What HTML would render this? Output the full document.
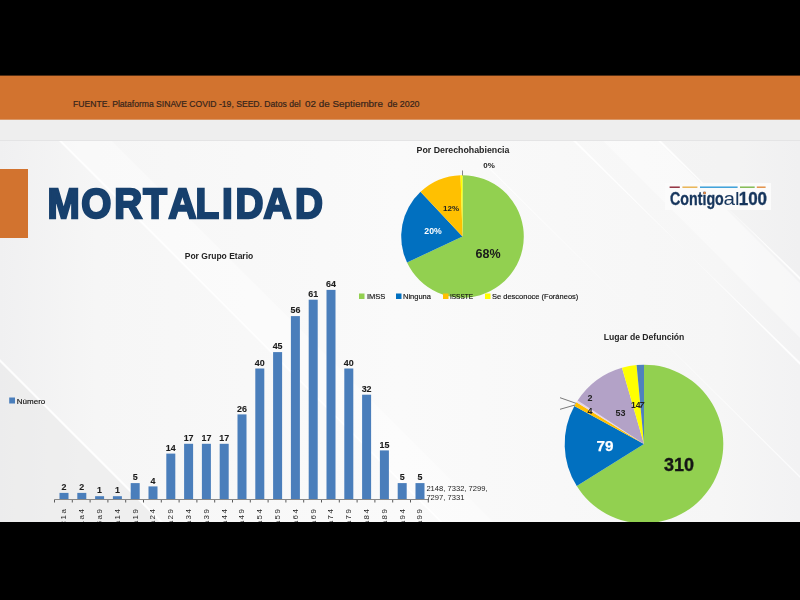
<!DOCTYPE html>
<html><head><meta charset="utf-8"><title>Mortalidad</title>
<style>
html,body{margin:0;padding:0;background:#000;}
body{width:800px;height:600px;position:relative;overflow:hidden;font-family:"Liberation Sans",sans-serif;}
.abs{position:absolute;}
#slide{left:0;top:76px;width:800px;height:446px;background:#f6f6f6;overflow:hidden;}
#bg{left:0;top:0;width:800px;height:446px;}
#topbar{left:0;top:0;width:800px;height:43px;background:#d2732f;}
#band{left:0;top:43px;width:800px;height:22px;background:#eeeeee;}
#src{left:73px;top:22px;font-size:8.6px;color:#35241a;-webkit-text-stroke:0.2px #35241a;white-space:nowrap;line-height:12px;}
#src b{font-weight:normal;font-size:9.9px;margin:0 2.1px 0 1.9px;}
#src i{font-style:normal;font-size:8.9px;}
#oblock{left:0;top:93px;width:28px;height:69px;background:#d2732f;}
svg text{font-family:"Liberation Sans",sans-serif;}
.bl{font-size:9.7px;font-weight:bold;fill:#1c1c1c;stroke:#1c1c1c;stroke-width:0.12px;text-anchor:middle;}
.xl{font-size:8px;fill:#1f1f1f;text-anchor:end;letter-spacing:1.5px;}
.ct{font-size:8.8px;font-weight:bold;fill:#242424;text-anchor:middle;}
.lg{font-size:7.5px;fill:#111;stroke:#111;stroke-width:0.15px;}
</style></head><body>
<div class="abs" style="left:0;top:75px;width:800px;height:1px;background:#542e13"></div>
<div id="slide" class="abs">
<svg id="bg" class="abs" width="800" height="446" viewBox="0 76 800 446">
<defs><linearGradient id="g1" x1="0" y1="0" x2="1" y2="0"><stop offset="0" stop-color="#f0f0f1"/><stop offset="0.12" stop-color="#f6f6f6"/><stop offset="0.5" stop-color="#fafafa"/><stop offset="0.9" stop-color="#f6f6f6"/><stop offset="1" stop-color="#f2f2f3"/></linearGradient></defs>
<rect x="0" y="76" width="800" height="446" fill="url(#g1)"/>
<polygon points="0,362 160,522 0,522" fill="#e9e9ea" opacity="0.55"/>
<polygon points="800,141 800,280 661,141" fill="#ececed" opacity="0.2"/>
<g fill="#ffffff">
<polygon points="0,359 0,362 160,522 163,522" opacity="0.85"/>
<polygon points="59,141 62,141 443,522 440,522" opacity="0.85"/>
<polygon points="62,141 112,141 493,522 443,522" opacity="0.4"/>
<polygon points="573,141 576,141 800,365 800,362" opacity="0.85"/>
<polygon points="658,141 661,141 800,280 800,277" opacity="0.85"/>
<polygon points="603,141 658,141 800,283 800,338" opacity="0.4"/>
<polygon points="461,141 463,141 800,478 800,476" opacity="0.7"/>
</g>
</svg>
<div id="topbar" class="abs"></div>
<div id="band" class="abs"></div>
<div class="abs" style="left:0;top:43px;width:800px;height:1px;background:#da9868"></div>
<div class="abs" style="left:0;top:64px;width:800px;height:1px;background:#e4e4e5"></div>
<div id="src" class="abs">FUENTE. Plataforma SINAVE COVID -19, SEED. Datos del <b>02 de Septiembre</b><i> de 2020</i></div>
<div id="oblock" class="abs"></div>
<svg class="abs" style="left:0;top:0;will-change:opacity;opacity:0.999" width="800" height="446" viewBox="0 76 800 446">
<text transform="translate(0,151.40) scale(0.87,0.9467)" x="54.5 93.4 131.3 164.7 193.8 224.8 255.3 270.6 303.0 339.2" y="70" style="font-size:44.5px;font-weight:bold;fill:#17406d;stroke:#17406d;stroke-width:2.4">MORTALIDAD</text>
<text x="219" y="258.8" class="ct" style="font-size:8.5px">Por Grupo Etario</text>
<rect x="9.2" y="397.5" width="5.8" height="6" fill="#4a7ebb"/><text x="16.8" y="403.5" class="lg" style="font-size:8px">Número</text>
<rect x="59.5" y="492.9" width="9" height="6.5" fill="#4a7ebb"/>
<text transform="translate(64.0,490.1) scale(0.92,1)" class="bl">2</text>
<text class="xl" transform="translate(66.4,507.5) rotate(-90)">&lt;1a</text>
<line x1="54.5" y1="499.5" x2="54.5" y2="502.5" stroke="#5a5a5a" stroke-width="1"/>
<rect x="77.3" y="492.9" width="9" height="6.5" fill="#4a7ebb"/>
<text transform="translate(81.8,490.1) scale(0.92,1)" class="bl">2</text>
<text class="xl" transform="translate(84.2,507.5) rotate(-90)">1a4</text>
<line x1="72.3" y1="499.5" x2="72.3" y2="502.5" stroke="#5a5a5a" stroke-width="1"/>
<rect x="95.1" y="496.2" width="9" height="3.3" fill="#4a7ebb"/>
<text transform="translate(99.6,493.4) scale(0.92,1)" class="bl">1</text>
<text class="xl" transform="translate(102.0,507.5) rotate(-90)">5a9</text>
<line x1="90.1" y1="499.5" x2="90.1" y2="502.5" stroke="#5a5a5a" stroke-width="1"/>
<rect x="112.9" y="496.2" width="9" height="3.3" fill="#4a7ebb"/>
<text transform="translate(117.4,493.4) scale(0.92,1)" class="bl">1</text>
<text class="xl" transform="translate(119.8,507.5) rotate(-90)">10a14</text>
<line x1="107.9" y1="499.5" x2="107.9" y2="502.5" stroke="#5a5a5a" stroke-width="1"/>
<rect x="130.7" y="483.1" width="9" height="16.4" fill="#4a7ebb"/>
<text transform="translate(135.2,480.3) scale(0.92,1)" class="bl">5</text>
<text class="xl" transform="translate(137.6,507.5) rotate(-90)">15a19</text>
<line x1="125.7" y1="499.5" x2="125.7" y2="502.5" stroke="#5a5a5a" stroke-width="1"/>
<rect x="148.5" y="486.4" width="9" height="13.1" fill="#4a7ebb"/>
<text transform="translate(153.0,483.6) scale(0.92,1)" class="bl">4</text>
<text class="xl" transform="translate(155.4,507.5) rotate(-90)">20a24</text>
<line x1="143.5" y1="499.5" x2="143.5" y2="502.5" stroke="#5a5a5a" stroke-width="1"/>
<rect x="166.3" y="453.6" width="9" height="45.9" fill="#4a7ebb"/>
<text transform="translate(170.8,450.8) scale(0.92,1)" class="bl">14</text>
<text class="xl" transform="translate(173.2,507.5) rotate(-90)">25a29</text>
<line x1="161.3" y1="499.5" x2="161.3" y2="502.5" stroke="#5a5a5a" stroke-width="1"/>
<rect x="184.1" y="443.8" width="9" height="55.7" fill="#4a7ebb"/>
<text transform="translate(188.6,441.0) scale(0.92,1)" class="bl">17</text>
<text class="xl" transform="translate(191.0,507.5) rotate(-90)">30a34</text>
<line x1="179.1" y1="499.5" x2="179.1" y2="502.5" stroke="#5a5a5a" stroke-width="1"/>
<rect x="201.9" y="443.8" width="9" height="55.7" fill="#4a7ebb"/>
<text transform="translate(206.4,441.0) scale(0.92,1)" class="bl">17</text>
<text class="xl" transform="translate(208.8,507.5) rotate(-90)">35a39</text>
<line x1="196.9" y1="499.5" x2="196.9" y2="502.5" stroke="#5a5a5a" stroke-width="1"/>
<rect x="219.7" y="443.8" width="9" height="55.7" fill="#4a7ebb"/>
<text transform="translate(224.2,441.0) scale(0.92,1)" class="bl">17</text>
<text class="xl" transform="translate(226.6,507.5) rotate(-90)">40a44</text>
<line x1="214.7" y1="499.5" x2="214.7" y2="502.5" stroke="#5a5a5a" stroke-width="1"/>
<rect x="237.5" y="414.4" width="9" height="85.1" fill="#4a7ebb"/>
<text transform="translate(242.0,411.6) scale(0.92,1)" class="bl">26</text>
<text class="xl" transform="translate(244.4,507.5) rotate(-90)">45a49</text>
<line x1="232.5" y1="499.5" x2="232.5" y2="502.5" stroke="#5a5a5a" stroke-width="1"/>
<rect x="255.3" y="368.5" width="9" height="131.0" fill="#4a7ebb"/>
<text transform="translate(259.8,365.7) scale(0.92,1)" class="bl">40</text>
<text class="xl" transform="translate(262.2,507.5) rotate(-90)">50a54</text>
<line x1="250.3" y1="499.5" x2="250.3" y2="502.5" stroke="#5a5a5a" stroke-width="1"/>
<rect x="273.1" y="352.1" width="9" height="147.4" fill="#4a7ebb"/>
<text transform="translate(277.6,349.3) scale(0.92,1)" class="bl">45</text>
<text class="xl" transform="translate(280.0,507.5) rotate(-90)">55a59</text>
<line x1="268.1" y1="499.5" x2="268.1" y2="502.5" stroke="#5a5a5a" stroke-width="1"/>
<rect x="290.9" y="316.1" width="9" height="183.4" fill="#4a7ebb"/>
<text transform="translate(295.4,313.3) scale(0.92,1)" class="bl">56</text>
<text class="xl" transform="translate(297.8,507.5) rotate(-90)">60a64</text>
<line x1="285.9" y1="499.5" x2="285.9" y2="502.5" stroke="#5a5a5a" stroke-width="1"/>
<rect x="308.7" y="299.7" width="9" height="199.8" fill="#4a7ebb"/>
<text transform="translate(313.2,296.9) scale(0.92,1)" class="bl">61</text>
<text class="xl" transform="translate(315.6,507.5) rotate(-90)">65a69</text>
<line x1="303.7" y1="499.5" x2="303.7" y2="502.5" stroke="#5a5a5a" stroke-width="1"/>
<rect x="326.5" y="289.9" width="9" height="209.6" fill="#4a7ebb"/>
<text transform="translate(331.0,287.1) scale(0.92,1)" class="bl">64</text>
<text class="xl" transform="translate(333.4,507.5) rotate(-90)">70a74</text>
<line x1="321.5" y1="499.5" x2="321.5" y2="502.5" stroke="#5a5a5a" stroke-width="1"/>
<rect x="344.3" y="368.5" width="9" height="131.0" fill="#4a7ebb"/>
<text transform="translate(348.8,365.7) scale(0.92,1)" class="bl">40</text>
<text class="xl" transform="translate(351.2,507.5) rotate(-90)">75a79</text>
<line x1="339.3" y1="499.5" x2="339.3" y2="502.5" stroke="#5a5a5a" stroke-width="1"/>
<rect x="362.1" y="394.7" width="9" height="104.8" fill="#4a7ebb"/>
<text transform="translate(366.6,391.9) scale(0.92,1)" class="bl">32</text>
<text class="xl" transform="translate(369.0,507.5) rotate(-90)">80a84</text>
<line x1="357.1" y1="499.5" x2="357.1" y2="502.5" stroke="#5a5a5a" stroke-width="1"/>
<rect x="379.9" y="450.4" width="9" height="49.1" fill="#4a7ebb"/>
<text transform="translate(384.4,447.6) scale(0.92,1)" class="bl">15</text>
<text class="xl" transform="translate(386.8,507.5) rotate(-90)">85a89</text>
<line x1="374.9" y1="499.5" x2="374.9" y2="502.5" stroke="#5a5a5a" stroke-width="1"/>
<rect x="397.7" y="483.1" width="9" height="16.4" fill="#4a7ebb"/>
<text transform="translate(402.2,480.3) scale(0.92,1)" class="bl">5</text>
<text class="xl" transform="translate(404.6,507.5) rotate(-90)">90a94</text>
<line x1="392.7" y1="499.5" x2="392.7" y2="502.5" stroke="#5a5a5a" stroke-width="1"/>
<rect x="415.5" y="483.1" width="9" height="16.4" fill="#4a7ebb"/>
<text transform="translate(420.0,480.3) scale(0.92,1)" class="bl">5</text>
<text class="xl" transform="translate(422.4,507.5) rotate(-90)">95a99</text>
<line x1="410.5" y1="499.5" x2="410.5" y2="502.5" stroke="#5a5a5a" stroke-width="1"/>
<line x1="428.3" y1="499.5" x2="428.3" y2="502.5" stroke="#5a5a5a" stroke-width="1"/>
<line x1="54.5" y1="499.5" x2="428.3" y2="499.5" stroke="#888" stroke-width="1"/>
<text x="426.4" y="491" font-size="7.6" fill="#222">2148, 7332, 7299,</text>
<text x="426.4" y="500" font-size="7.6" fill="#222">7297, 7331</text>
<text x="463" y="153" class="ct">Por Derechohabiencia</text>
<text x="489" y="168" class="ct" style="font-size:8px">0%</text>
<path d="M462.5,236.5 L462.50,175.20 A61.3,61.3 0 1 1 407.03,262.60 Z" fill="#92d050"/>
<path d="M462.5,236.5 L407.03,262.60 A61.3,61.3 0 0 1 420.54,191.81 Z" fill="#0070c0"/>
<path d="M462.5,236.5 L420.54,191.81 A61.3,61.3 0 0 1 460.57,175.23 Z" fill="#ffc000"/>
<path d="M462.5,236.5 L460.57,175.23 A61.3,61.3 0 0 1 462.50,175.20 Z" fill="#ffff00"/>
<line x1="462.5" y1="170.5" x2="462.5" y2="175.5" stroke="#555" stroke-width="0.7"/>
<text x="488" y="257.5" style="font-size:12.5px;font-weight:bold;fill:#1a1a1a;text-anchor:middle">68%</text>
<text x="433" y="234" style="font-size:8.7px;font-weight:bold;fill:#fff;text-anchor:middle">20%</text>
<text x="451" y="211" style="font-size:8px;font-weight:bold;fill:#222;text-anchor:middle">12%</text>
<rect x="359" y="293.5" width="5.5" height="5.5" fill="#92d050"/><text x="367" y="299" class="lg">IMSS</text>
<rect x="396" y="293.5" width="5.5" height="5.5" fill="#0070c0"/><text x="403" y="299" class="lg">Ninguna</text>
<rect x="443" y="293.5" width="5.5" height="5.5" fill="#ffc000"/><text x="450" y="299" class="lg" textLength="23" lengthAdjust="spacingAndGlyphs">ISSSTE</text>
<rect x="485" y="293.5" width="5.5" height="5.5" fill="#ffff00"/><text x="492" y="299" class="lg">Se desconoce (Foráneos)</text>
<text x="644" y="340" class="ct" style="font-size:8.6px">Lugar de Defunción</text>
<path d="M644,444 L644.00,364.70 A79.3,79.3 0 1 1 576.78,486.08 Z" fill="#92d050"/>
<path d="M644,444 L576.78,486.08 A79.3,79.3 0 0 1 574.37,406.05 Z" fill="#0070c0"/>
<path d="M644,444 L574.37,406.05 A79.3,79.3 0 0 1 576.50,402.37 Z" fill="#ffc000"/>
<path d="M644,444 L576.50,402.37 A79.3,79.3 0 0 1 577.64,400.58 Z" fill="#e6d5e8"/>
<path d="M644,444 L577.64,400.58 A79.3,79.3 0 0 1 621.98,367.82 Z" fill="#b3a2c7"/>
<path d="M644,444 L621.98,367.82 A79.3,79.3 0 0 1 636.57,365.05 Z" fill="#ffff00"/>
<path d="M644,444 L636.57,365.05 A79.3,79.3 0 0 1 644.00,364.70 Z" fill="#4f81bd"/>
<text x="679" y="471" style="font-size:18px;font-weight:bold;fill:#151515;stroke:#151515;stroke-width:0.35px;text-anchor:middle">310</text>
<text x="605" y="451" style="font-size:15.3px;font-weight:bold;fill:#fff;stroke:#fff;stroke-width:0.25px;text-anchor:middle">79</text>
<text x="620.5" y="416" style="font-size:9px;font-weight:bold;fill:#222;text-anchor:middle">53</text>
<text x="590" y="401" style="font-size:9px;font-weight:bold;fill:#222;text-anchor:middle">2</text>
<text x="590" y="414" style="font-size:9px;font-weight:bold;fill:#222;text-anchor:middle">4</text>
<text x="635.7" y="408.3" style="font-size:8.6px;font-weight:bold;fill:#222;text-anchor:middle">14</text>
<text x="641.9" y="407.5" style="font-size:8.4px;font-weight:bold;font-style:italic;fill:#222;text-anchor:middle">7</text>
<line x1="560" y1="397.7" x2="576" y2="403.3" stroke="#444" stroke-width="0.7"/>
<line x1="560" y1="409.3" x2="575" y2="405" stroke="#444" stroke-width="0.7"/>
<rect x="665" y="183" width="106" height="27" fill="#fbfbfb"/>
<rect x="669.6" y="186.5" width="10.2" height="1.4" fill="#8b2332"/>
<rect x="682.4" y="186.5" width="15" height="1.4" fill="#e8b04a"/>
<rect x="700" y="186.5" width="37.6" height="1.4" fill="#2f9ad6"/>
<rect x="740" y="186.5" width="14.7" height="1.4" fill="#7ab648"/>
<rect x="756.8" y="186.5" width="8.8" height="1.4" fill="#e08a3c"/>
<text x="670.1" y="204.8" textLength="53.7" lengthAdjust="spacingAndGlyphs" style="font-size:17.5px;font-weight:bold;fill:#17365d;stroke:#17365d;stroke-width:0.35">Contigo</text>
<circle cx="704.6" cy="193.1" r="1.25" fill="#e8873c"/>
<text x="723.4" y="204.8" textLength="16.1" lengthAdjust="spacingAndGlyphs" style="font-size:17.5px;fill:#17365d">al</text>
<text x="738.7" y="204.8" textLength="28.4" lengthAdjust="spacingAndGlyphs" style="font-size:17.5px;font-weight:bold;fill:#17365d;stroke:#17365d;stroke-width:0.35">100</text>
</svg>
</div>
</body></html>
